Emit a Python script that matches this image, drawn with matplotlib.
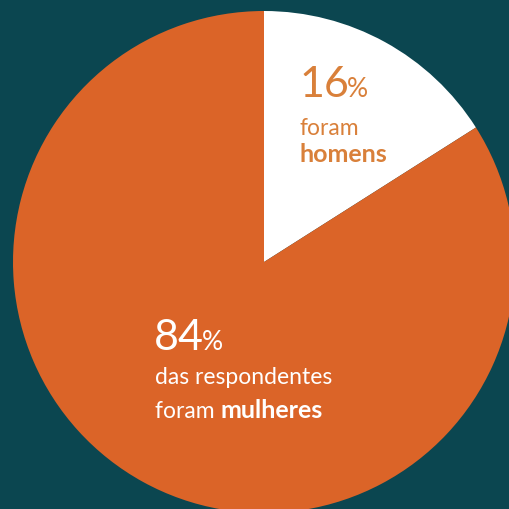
import matplotlib

matplotlib.use("Agg")
import matplotlib.pyplot as plt

# share of respondents
labels = ["homens", "mulheres"]
shares = [16, 84]

BG = "#0b4650"
ORANGE = "#db6428"
TEXT_ORANGE = "#d9803a"
FONT = "Lato"

W = H = 509
fig = plt.figure(figsize=(W / 100, H / 100), dpi=100, facecolor=BG)
ax = fig.add_axes([0, 0, 1, 1])
ax.set_facecolor(BG)

ax.pie(
    shares,
    colors=["white", ORANGE],
    startangle=90,
    counterclock=False,
    center=(264, H - 262),
    radius=251,
    frame=True,
    wedgeprops={"linewidth": 0},
)
ax.set_xlim(0, W)
ax.set_ylim(0, H)
ax.set_aspect("equal")
ax.axis("off")


def y(py):
    return H - py


def after(t, gap=1):
    # x (data) just right of an already placed text
    fig.canvas.draw()
    bb = t.get_window_extent()
    return ax.transData.inverted().transform((bb.x1, bb.y0))[0] + gap


kw = dict(family=FONT, va="baseline")

# white slice label
t = ax.text(299, y(97), f"{shares[0]}", fontsize=31, color=TEXT_ORANGE, **kw)
ax.text(after(t, -2), y(97), "%", fontsize=19, color=TEXT_ORANGE, **kw)
ax.text(300, y(135), "foram", fontsize=16.5, color=TEXT_ORANGE, **kw)
ax.text(300, y(162), labels[0], fontsize=18, color=TEXT_ORANGE, weight="bold", **kw)

# orange slice label
t = ax.text(154, y(350), f"{shares[1]}", fontsize=31, color="white", **kw)
ax.text(after(t, -2), y(350), "%", fontsize=19, color="white", **kw)
ax.text(155, y(384), "das respondentes", fontsize=16.5, color="white", **kw)
t = ax.text(155, y(418), "foram ", fontsize=16.5, color="white", **kw)
ax.text(after(t, 0), y(418), labels[1], fontsize=18, color="white", weight="bold", **kw)

fig.savefig("out.png", dpi=100, facecolor=BG)
